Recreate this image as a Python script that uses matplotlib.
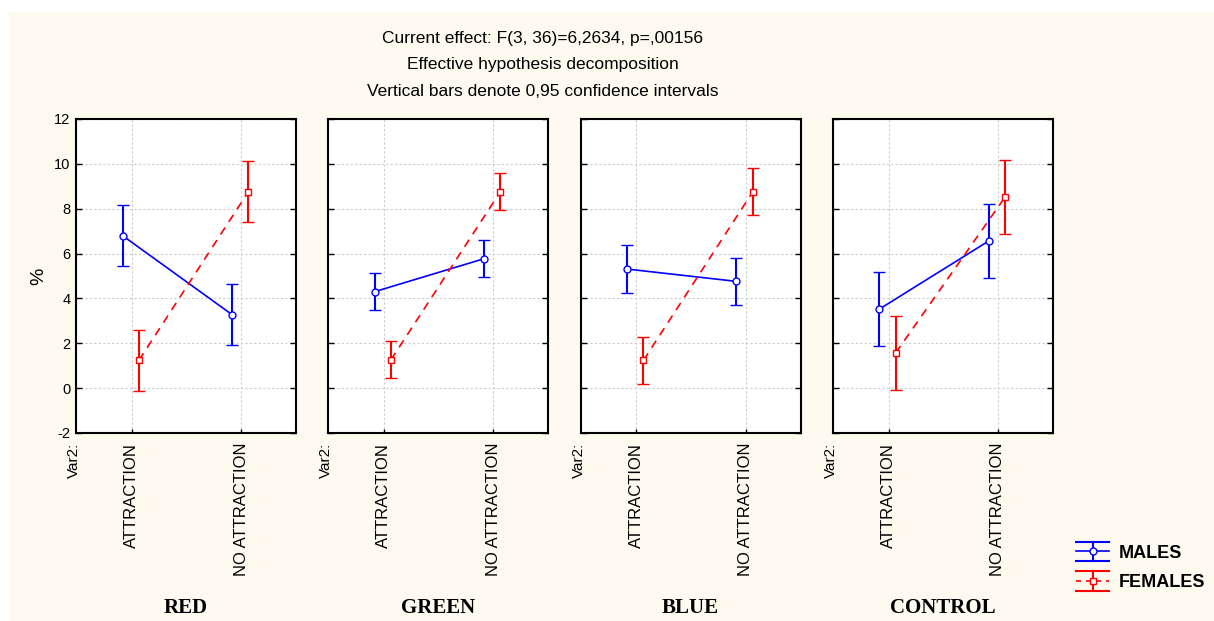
import matplotlib
matplotlib.use("Agg")
import matplotlib.pyplot as plt
from matplotlib.lines import Line2D
from matplotlib.patches import Rectangle
from matplotlib.legend_handler import HandlerBase

# ---- data ----
panels = ["RED", "GREEN", "BLUE", "CONTROL"]
levels = ["ATTRACTION", "NO ATTRACTION"]
males_mean = [[6.80, 3.28], [4.30, 5.77], [5.31, 4.76], [3.52, 6.56]]
males_ci = [[1.36, 1.37], [0.83, 0.83], [1.05, 1.04], [1.66, 1.66]]
females_mean = [[1.24, 8.76], [1.26, 8.76], [1.24, 8.76], [1.57, 8.52]]
females_ci = [[1.37, 1.37], [0.83, 0.83], [1.04, 1.04], [1.66, 1.66]]
series_names = ["MALES", "FEMALES"]
title_lines = ["Current effect: F(3, 36)=6,2634, p=,00156",
               "Effective hypothesis decomposition",
               "Vertical bars denote 0,95 confidence intervals"]
yticks = [-2, 0, 2, 4, 6, 8, 10, 12]

plt.rcParams['font.family'] = ['Liberation Sans', 'DejaVu Sans']
plt.rcParams['axes.unicode_minus'] = False

W, H = 1214, 621
fig = plt.figure(figsize=(W / 100, H / 100), dpi=100)
fig.patch.set_facecolor('white')
fig.patches.append(Rectangle((9 / W, 0), 1 - 9 / W, 1 - 12 / H, transform=fig.transFigure,
                             facecolor='#fefaef', edgecolor='none', zorder=-10))

BLUE = '#0000ff'
RED = '#ff0000'
lefts = [76, 328, 580.5, 832.7]
pw = 220
top_px, bot_px = 119, 433

axes = []
for i, name in enumerate(panels):
    ax = fig.add_axes([lefts[i] / W, 1 - bot_px / H, pw / W, (bot_px - top_px) / H])
    ax.set_facecolor('white')
    xs = list(range(len(levels)))
    xm = [x - 0.085 for x in xs]
    xf = [x + 0.065 for x in xs]
    cm = ax.errorbar(xm, males_mean[i], yerr=males_ci[i], color=BLUE, lw=1.2,
                     marker='o', ms=5, mfc='white', mec=BLUE, mew=1.0,
                     capsize=4, capthick=1.5, elinewidth=1.5, zorder=3)
    cf = ax.errorbar(xf, females_mean[i], yerr=females_ci[i], color=RED, lw=1.2,
                     ls=(0, (5, 4)), marker='s', ms=5, mfc='white', mec=RED, mew=1.0,
                     capsize=4, capthick=1.5, elinewidth=1.5, zorder=3)
    ax.set_xlim(-0.51, 1.5)
    ax.set_ylim(-2, 12)
    ax.set_yticks(yticks)
    ax.set_xticks(xs)
    ax.set_xticklabels(levels, rotation=90, fontsize=12)
    ax.grid(True, color='#cccccc', ls=(0, (2, 2)), lw=0.8)
    ax.set_axisbelow(True)
    ax.tick_params(axis='y', direction='in', length=4, width=1, left=True, right=True,
                   labelsize=10.5, pad=4)
    ax.tick_params(axis='x', direction='in', length=3, width=1, pad=7, labelsize=12)
    if i > 0:
        ax.tick_params(axis='y', labelleft=False)
    for s in ax.spines.values():
        s.set_linewidth(1.5)
    ax.text(-0.008, -0.03, "Var2:", rotation=90, ha='center', va='top',
            transform=ax.transAxes, fontsize=11)
    ax.text(0.5, 1 - (608 - bot_px) / (bot_px - top_px) - 1, name, transform=ax.transAxes,
            ha='center', va='center', fontsize=15, fontweight='bold',
            family='Liberation Serif')
    axes.append((cm, cf))

axes_first = fig.axes[0]
axes_first.set_ylabel("%", fontsize=14, labelpad=5)

for k, line in enumerate(title_lines):
    fig.text(543 / W, 1 - (38 + 27 * k) / H, line, ha='center', va='center', fontsize=12.5)


class ErrHandler(HandlerBase):
    def __init__(self, color, ls, marker):
        super().__init__()
        self.color, self.ls, self.marker = color, ls, marker

    def create_artists(self, legend, orig_handle, xdescent, ydescent, width, height,
                       fontsize, trans):
        x0 = -xdescent
        x1 = x0 + width
        cx = (x0 + x1) / 2
        cy = height / 2 - ydescent
        half = 7.0
        arts = [
            Line2D([x0, x1], [cy, cy], color=self.color, ls=self.ls, lw=1.2),
            Line2D([cx, cx], [cy - half, cy + half], color=self.color, lw=1.5),
            Line2D([x0, x1], [cy + half, cy + half], color=self.color, lw=1.5),
            Line2D([x0, x1], [cy - half, cy - half], color=self.color, lw=1.5),
            Line2D([cx], [cy], marker=self.marker, ms=5, mfc='white', mec=self.color,
                   mew=1.0, ls='none'),
        ]
        for a in arts:
            a.set_transform(trans)
        return arts


cm0, cf0 = axes[0]
fig.legend([cm0, cf0], series_names, loc='center left',
           bbox_to_anchor=(1067 / W, 1 - 568 / H), frameon=False,
           borderpad=0, handlelength=1.85, handletextpad=0.5, labelspacing=0.7,
           prop={'weight': 'bold', 'size': 13},
           handler_map={cm0: ErrHandler(BLUE, '-', 'o'),
                        cf0: ErrHandler(RED, (0, (3, 3)), 's')})

fig.savefig("out.png", dpi=100, facecolor=fig.get_facecolor())
